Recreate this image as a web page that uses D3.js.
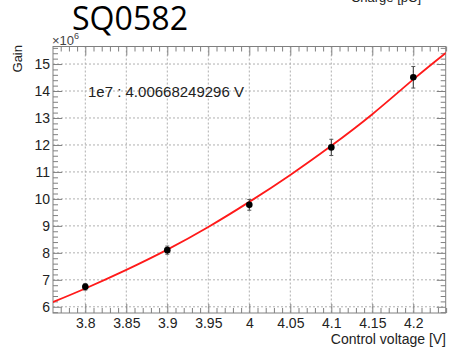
<!DOCTYPE html>
<html><head><meta charset="utf-8">
<script src="https://cdn.jsdelivr.net/npm/d3@7"></script>
<style>
html,body{margin:0;padding:0;background:#fff;}
svg{display:block;}
text{font-family:"Liberation Sans",Arial,sans-serif;}
</style></head>
<body>
<script>
// Data
const voltages = [3.8, 3.9, 4.0, 4.1, 4.2];
const gains = [6.74, 8.10, 9.78, 11.91, 14.51];          // x 1e6
const gainErrors = [0.12, 0.15, 0.2, 0.3, 0.4];
const fitVoltages = [3.76, 3.8, 3.85, 3.9, 3.95, 4.0, 4.05, 4.1, 4.15, 4.2, 4.24];
const fitGains = [6.17, 6.68, 7.37, 8.12, 8.96, 9.89, 10.89, 11.97, 13.14, 14.43, 15.42];
const xTicks = [3.8, 3.85, 3.9, 3.95, 4.0, 4.05, 4.1, 4.15, 4.2];
const xTickLabels = ["3.8","3.85","3.9","3.95","4","4.05","4.1","4.15","4.2"];
const yTicks = [6,7,8,9,10,11,12,13,14,15];
const title = "SQ0582";
const annotation = "1e7 : 4.00668249296 V";

const W = 461, H = 348;
const L = 53, R = 445.7, T = 46.5, B = 313;
const svg = d3.select("body").append("svg").attr("width", W).attr("height", H);

const x = d3.scaleLinear().domain([3.7606, 4.2395]).range([L, R]);
const y = d3.scaleLinear().domain([5.77, 15.65]).range([B, T]);

const frameColor = "#808080";
const gridColor = "#b0b0b0";

// grid
const g = svg.append("g");
g.selectAll(".gx").data(xTicks).join("line")
  .attr("x1", d => x(d)).attr("x2", d => x(d)).attr("y1", T).attr("y2", B)
  .attr("stroke", gridColor).attr("stroke-width", 1).attr("stroke-dasharray", "2,2");
g.selectAll(".gy").data(yTicks).join("line")
  .attr("x1", L).attr("x2", R).attr("y1", d => y(d)).attr("y2", d => y(d))
  .attr("stroke", gridColor).attr("stroke-width", 1).attr("stroke-dasharray", "2,2");

// axes with inward ticks
const xMinor = d3.range(3.77, 4.2401, 0.01).map(v => +v.toFixed(3)).filter(v => !xTicks.some(t => Math.abs(t - v) < 1e-6));
const yMinor = d3.range(5.8, 15.61, 0.2).map(v => +v.toFixed(2)).filter(v => !yTicks.some(t => Math.abs(t - v) < 1e-6));

function addAxis(axisGen, transform) {
  const a = svg.append("g").attr("transform", transform).call(axisGen);
  a.select(".domain").remove();
  a.selectAll("line").attr("stroke", frameColor);
  return a;
}
// bottom
const xb = addAxis(d3.axisBottom(x).tickValues(xTicks).tickSize(-9).tickPadding(5)
  .tickFormat((d, i) => xTickLabels[i]), `translate(0,${B})`);
xb.selectAll("text").attr("font-size", 14).attr("fill", "#222");
addAxis(d3.axisBottom(x).tickValues(xMinor).tickSize(-5).tickFormat(""), `translate(0,${B})`);
// top
addAxis(d3.axisTop(x).tickValues(xTicks).tickSize(-9).tickFormat(""), `translate(0,${T})`);
addAxis(d3.axisTop(x).tickValues(xMinor).tickSize(-5).tickFormat(""), `translate(0,${T})`);
// left
const yl = addAxis(d3.axisLeft(y).tickValues(yTicks).tickSize(-9).tickPadding(3), `translate(${L},0)`);
yl.selectAll("text").attr("font-size", 14).attr("fill", "#222");
addAxis(d3.axisLeft(y).tickValues(yMinor).tickSize(-5).tickFormat(""), `translate(${L},0)`);
// right
addAxis(d3.axisRight(y).tickValues(yTicks).tickSize(-9).tickFormat(""), `translate(${R},0)`);
addAxis(d3.axisRight(y).tickValues(yMinor).tickSize(-5).tickFormat(""), `translate(${R},0)`);

// frame
svg.append("rect").attr("x", L).attr("y", T).attr("width", R - L).attr("height", B - T)
  .attr("fill", "none").attr("stroke", frameColor).attr("stroke-width", 1);

// clip
svg.append("clipPath").attr("id", "clip").append("rect")
  .attr("x", L).attr("y", T).attr("width", R - L).attr("height", B - T);

// fit curve
const fitData = fitVoltages.map((v, i) => [v, fitGains[i]]);
svg.append("path").datum(fitData)
  .attr("clip-path", "url(#clip)")
  .attr("d", d3.line().x(d => x(d[0])).y(d => y(d[1])).curve(d3.curveNatural))
  .attr("fill", "none").attr("stroke", "#ff1a1a").attr("stroke-width", 1.8);

// error bars & points
const pts = voltages.map((v, i) => ({v, g: gains[i], e: gainErrors[i]}));
const eb = svg.append("g");
eb.selectAll(".eb").data(pts).join("line")
  .attr("x1", d => x(d.v)).attr("x2", d => x(d.v))
  .attr("y1", d => y(d.g - d.e)).attr("y2", d => y(d.g + d.e))
  .attr("stroke", "#333").attr("stroke-width", 1);
eb.selectAll(".capt").data(pts).join("line")
  .attr("x1", d => x(d.v) - 2).attr("x2", d => x(d.v) + 2)
  .attr("y1", d => y(d.g + d.e)).attr("y2", d => y(d.g + d.e))
  .attr("stroke", "#555").attr("stroke-width", 1);
eb.selectAll(".capb").data(pts).join("line")
  .attr("x1", d => x(d.v) - 2).attr("x2", d => x(d.v) + 2)
  .attr("y1", d => y(d.g - d.e)).attr("y2", d => y(d.g - d.e))
  .attr("stroke", "#555").attr("stroke-width", 1);
eb.selectAll("circle").data(pts).join("circle")
  .attr("cx", d => x(d.v)).attr("cy", d => y(d.g)).attr("r", 3.3).attr("fill", "#000");

// texts
svg.append("text").attr("x", 72).attr("y", 30).attr("font-size", 32)
  .style("font-family", "'Open Sans','Noto Sans',sans-serif")
  .attr("textLength", 116).attr("lengthAdjust", "spacingAndGlyphs")
  .attr("fill", "#000").text(title);
svg.append("text").attr("x", 421).attr("y", 2).attr("text-anchor", "end").attr("font-size", 13)
  .attr("fill", "#222").text("Charge [pC]");
const mult = svg.append("text").attr("x", 52).attr("y", 45).attr("font-size", 13).attr("fill", "#444");
mult.append("tspan").text("×10");
mult.append("tspan").attr("dy", -6).attr("font-size", 9).text("6");
svg.append("text").attr("transform", "translate(22,45) rotate(-90)").attr("text-anchor", "end")
  .attr("font-size", 13).attr("fill", "#222").text("Gain");
svg.append("text").attr("x", 446).attr("y", 344).attr("text-anchor", "end").attr("font-size", 14)
  .attr("fill", "#222").text("Control voltage [V]");
svg.append("text").attr("x", 88).attr("y", 97).attr("font-size", 15)
  .attr("fill", "#222").text(annotation);
</script>
</body></html>
